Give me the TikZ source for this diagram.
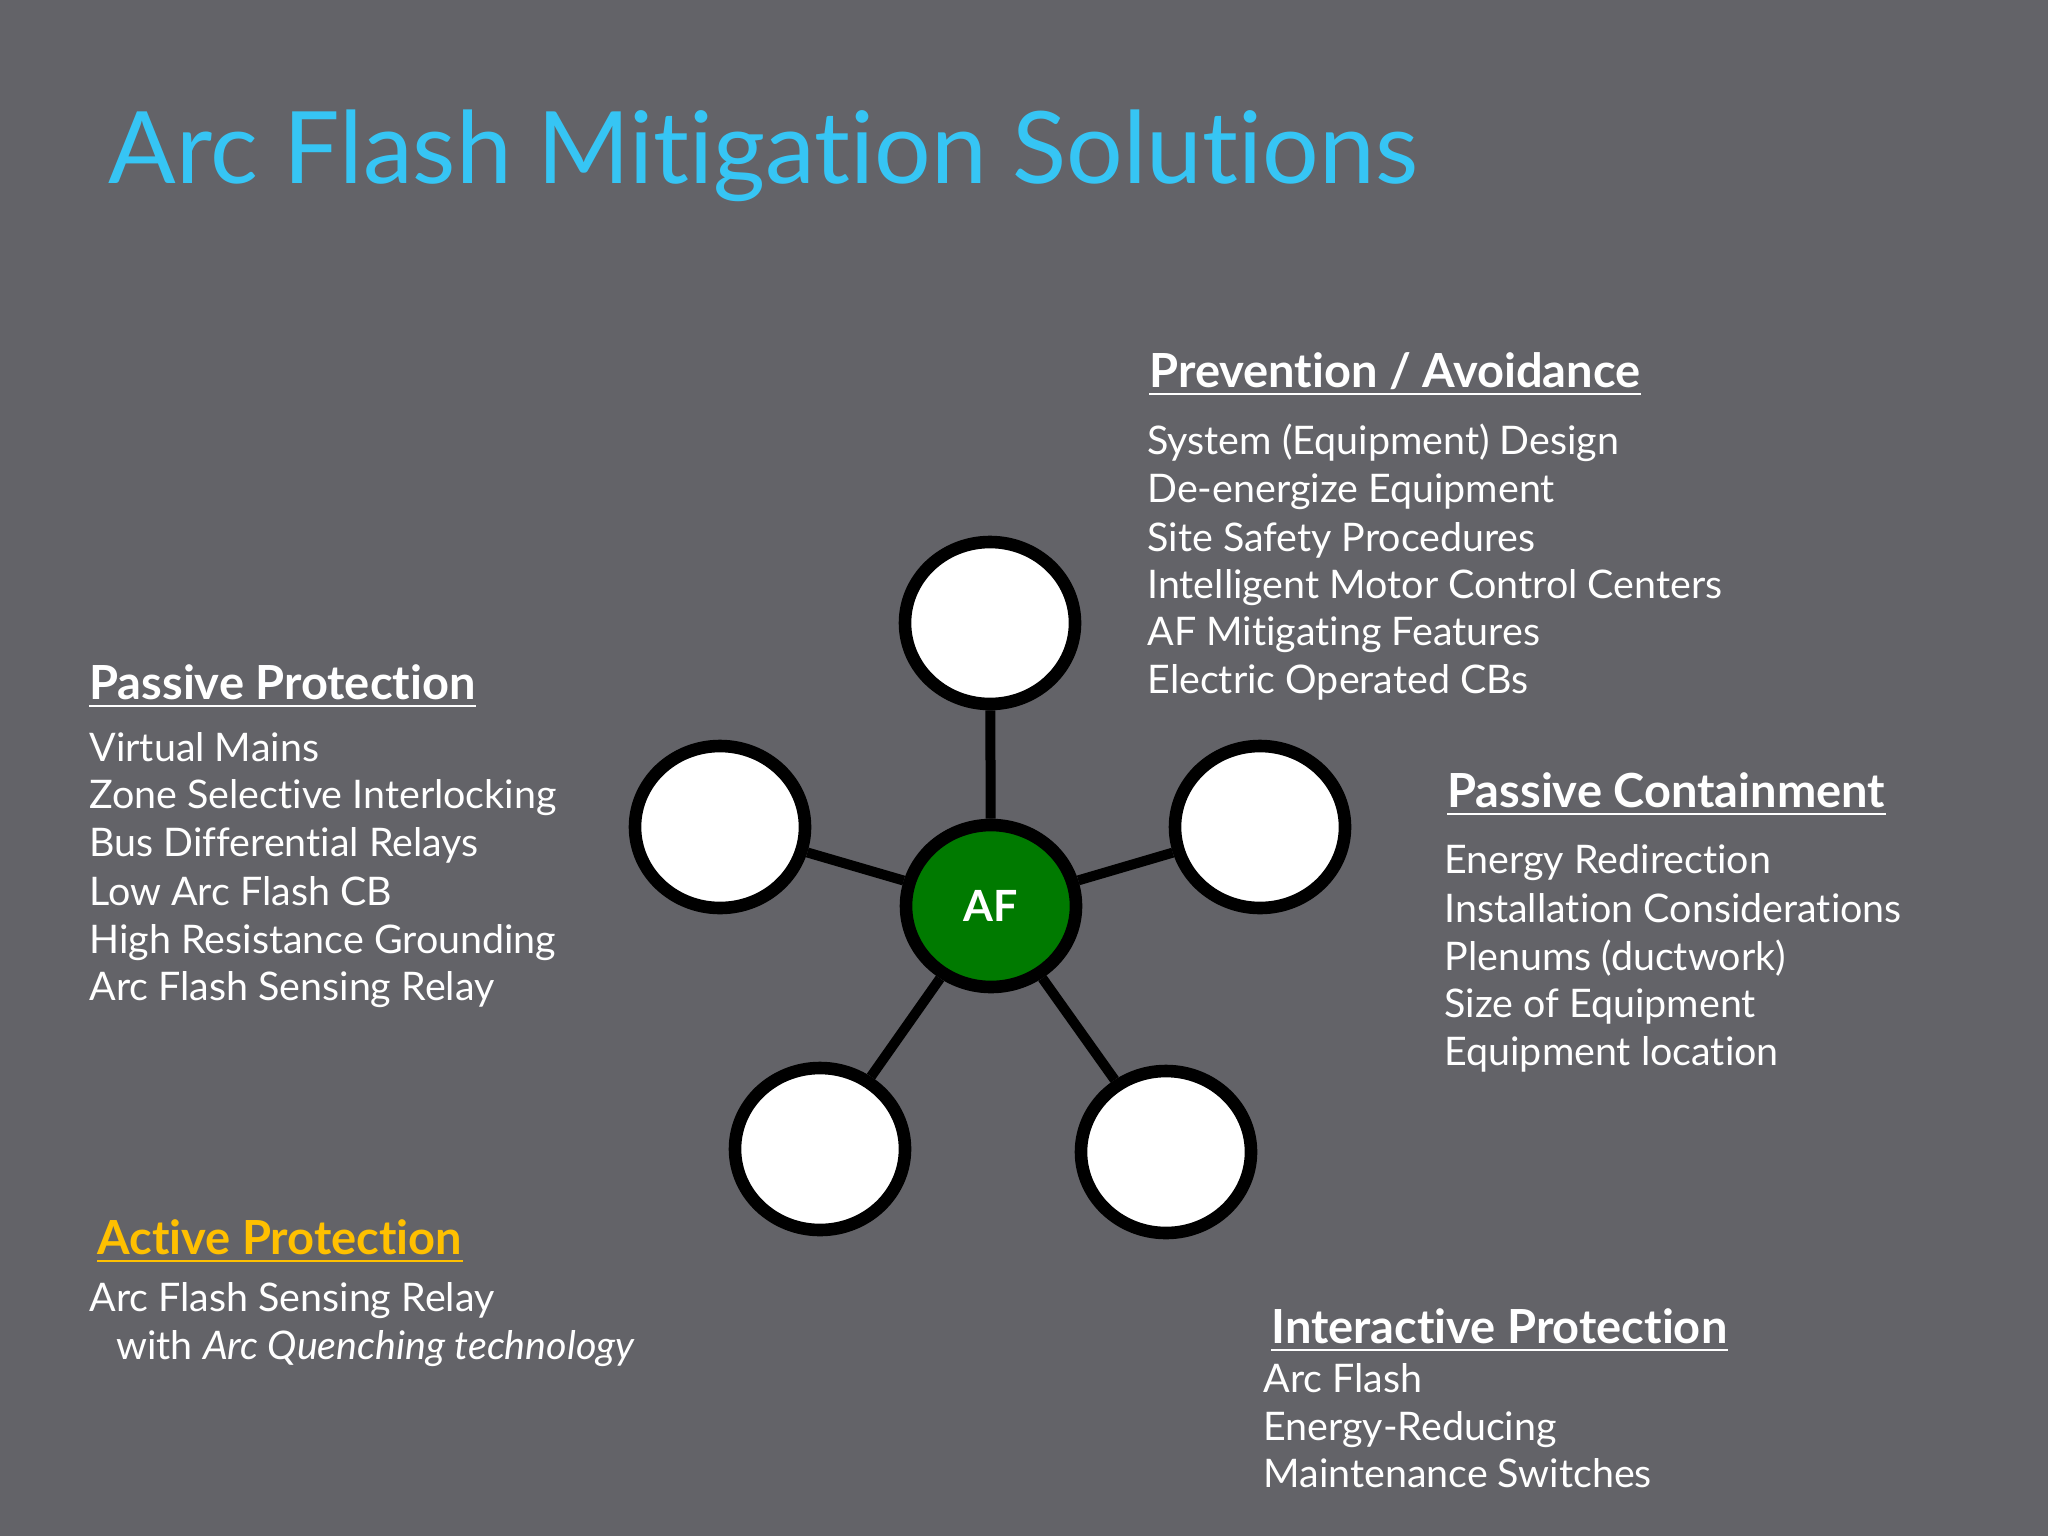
\documentclass[tikz,border=0pt]{standalone}
\usepackage{fontspec}
\setmainfont{Lato}[Ligatures=NoCommon]
\usetikzlibrary{shapes.geometric}
\definecolor{bgc}{RGB}{99,99,104}
\definecolor{titleblue}{RGB}{54,197,244}
\definecolor{afgreen}{RGB}{0,122,0}
\definecolor{ayellow}{RGB}{255,192,0}
\tikzset{
  body/.style={anchor=base west, inner sep=0pt, text=white, font=\fontsize{19.7}{24}\selectfont},
  head/.style={anchor=base west, inner sep=0pt, text=white, font=\fontsize{23.5}{28}\selectfont\bfseries},
  uline/.style={line width=1.3pt},
  bubble/.style={ellipse, draw=black, line width=6.3pt, fill=white, minimum width=85pt, minimum height=81pt, inner sep=0pt},
  hub/.style={bubble, fill=afgreen, text=white, font=\fontsize{21.5}{24}\selectfont\bfseries},
  spoke/.style={draw=black, line width=5pt}
}
\begin{document}
\begin{tikzpicture}[x=0.5pt,y=-0.5pt]
\fill[bgc] (0,0) rectangle (2048,1536);
\useasboundingbox (0,0) rectangle (2048,1536);

% title
\node[anchor=base west, inner sep=0pt, text=titleblue, font=\fontsize{50}{56}\selectfont] (title) at (108,183) {Arc Flash Mitigation Solutions};

% diagram
\node[hub] (af) at (991,906) {AF};
\node[bubble] (top) at (990,623) {};
\node[bubble] (left) at (720,827) {};
\node[bubble] (right) at (1260,827) {};
\node[bubble] (bl) at (820,1149) {};
\node[bubble] (br) at (1166,1152) {};
\draw[spoke] (af) -- (top);
\draw[spoke] (af) -- (left);
\draw[spoke] (af) -- (right);
\draw[spoke] (af) -- (bl);
\draw[spoke] (af) -- (br);

% Prevention / Avoidance
\node[head] (h1) at (1149,387) {Prevention / Avoidance};
\draw[white, uline] ([yshift=-3.5pt]h1.base west) -- ([yshift=-3.5pt]h1.base east);
\node[body] (p1) at (1147,454) {System (Equipment) Design};
\node[body] (p2) at (1147,502) {De-energize Equipment};
\node[body] (p3) at (1147,551) {Site Safety Procedures};
\node[body] (p4) at (1147,598) {Intelligent Motor Control Centers};
\node[body] (p5) at (1147,645) {AF Mitigating Features};
\node[body] (p6) at (1147,693) {Electric Operated CBs};

% Passive Protection
\node[head] (h2) at (89,699) {Passive Protection};
\draw[white, uline] ([yshift=-3.5pt]h2.base west) -- ([yshift=-3.5pt]h2.base east);
\node[body] (q1) at (89,761) {Virtual Mains};
\node[body] (q2) at (89,808) {Zone Selective Interlocking};
\node[body] (q3) at (89,856) {Bus Differential Relays};
\node[body] (q4) at (89,905) {Low Arc Flash CB};
\node[body] (q5) at (89,953) {High Resistance Grounding};
\node[body] (q6) at (89,1000) {Arc Flash Sensing Relay};

% Passive Containment
\node[head] (h3) at (1447,807) {Passive Containment};
\draw[white, uline] ([yshift=-3.5pt]h3.base west) -- ([yshift=-3.5pt]h3.base east);
\node[body] (c1) at (1444,873) {Energy Redirection};
\node[body] (c2) at (1444,922) {Installation Considerations};
\node[body] (c3) at (1444,970) {Plenums (ductwork)};
\node[body] (c4) at (1444,1017) {Size of Equipment};
\node[body] (c5) at (1444,1065) {Equipment location};

% Active Protection
\node[head, text=ayellow] (h4) at (97,1254) {Active Protection};
\draw[ayellow, uline] ([yshift=-3.5pt]h4.base west) -- ([yshift=-3.5pt]h4.base east);
\node[body] (a1) at (89,1311) {Arc Flash Sensing Relay};
\node[body] (a2) at (116,1359) {with \textit{Arc Quenching technology}};

% Interactive Protection
\node[head] (h5) at (1271,1343) {Interactive Protection};
\draw[white, uline] ([yshift=-3.5pt]h5.base west) -- ([yshift=-3.5pt]h5.base east);
\node[body] (i1) at (1263,1392) {Arc Flash};
\node[body] (i2) at (1263,1440) {Energy-Reducing};
\node[body] (i3) at (1263,1487) {Maintenance Switches};
\end{tikzpicture}
\end{document}
